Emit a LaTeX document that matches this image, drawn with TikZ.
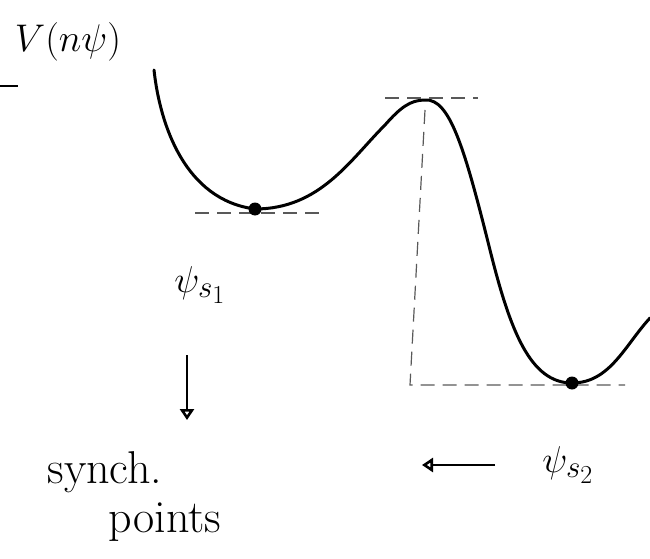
\documentclass[tikz,border=0pt]{standalone}
\usepackage{graphicx}
\usetikzlibrary{arrows.meta}
\newcommand{\bigtxt}[2][1.4]{\scalebox{#1}{\Huge #2}}
\begin{document}
\begin{tikzpicture}[x=1pt,y=-1pt,
  curve/.style={line width=3pt,line cap=round,line join=round},
  guide/.style={line width=1.2pt,dash pattern=on 14pt off 8pt,gray!70!black},
  lbl/.style={inner sep=0pt},
  arr/.style={line width=2.6pt,-{Triangle[open,length=11pt,width=14pt]}}]
\useasboundingbox (0,0) rectangle (650,559);
% potential curve
\coordinate (start) at (154,70);
\coordinate (min1) at (255,209);
\coordinate (peak) at (425,100);
\coordinate (min2) at (572,383);
\coordinate (endc) at (650,318);
\draw[curve] (start) .. controls (160,125) and (185,200) .. (min1)
  .. controls (320,209) and (350,160) .. (385,125)
  .. controls (400,108) and (410,100) .. (peak)
  .. controls (450,98) and (465,150) .. (490,250)
  .. controls (510,330) and (530,383) .. (min2)
  .. controls (610,383) and (625,345) .. (endc);
% guides
\coordinate (g1a) at (195,213); \coordinate (g1b) at (320,213);
\draw[guide] (g1a) -- (g1b);
\coordinate (g2a) at (385,98); \coordinate (g2b) at (478,98);
\draw[guide] (g2a) -- (g2b);
\coordinate (v1) at (425,110); \coordinate (v2) at (410,385);
\coordinate (g3b) at (625,385);
\draw[guide] (v1) -- (v2) -- (g3b);
\coordinate (t1) at (0,86); \coordinate (t2) at (18,86);
\draw[line width=1.5pt] (t1) -- (t2);
% points
\fill (min1) circle (6.5pt);
\fill (min2) circle (6.5pt);
% labels
\node[lbl] (V) at (68,42) {\bigtxt[1.55]{$V(n\psi)$}};
\node[lbl] (p1) at (200,285) {\bigtxt[1.5]{$\psi_{s_1}$}};
\node[lbl] (p2) at (568,465) {\bigtxt[1.5]{$\psi_{s_2}$}};
\node[lbl] (sync1) at (105,472) {\bigtxt[1.85]{synch.}};
\node[lbl] (sync2) at (165,522) {\bigtxt[1.85]{points}};
% arrows
\coordinate (a1) at (187,355); \coordinate (a1e) at (187,420);
\draw[arr] (a1) -- (a1e);
\coordinate (a2) at (495,465); \coordinate (a2e) at (422,465);
\draw[arr] (a2) -- (a2e);
\end{tikzpicture}
\end{document}
